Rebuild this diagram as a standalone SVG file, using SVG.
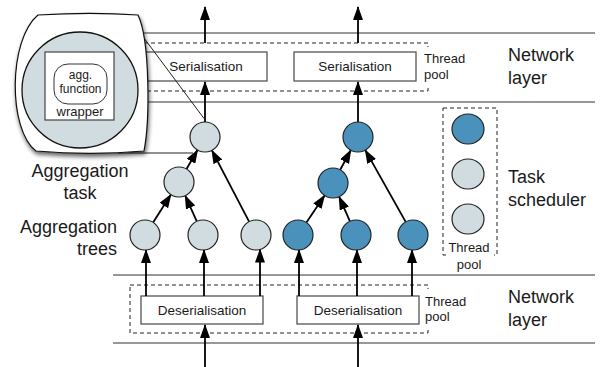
<svg xmlns="http://www.w3.org/2000/svg" width="607" height="367" viewBox="0 0 607 367">
<style>
text{font-family:"Liberation Sans",Arial,sans-serif;fill:#1a1a1a}
.lbl{font-size:18px}
.small{font-size:13px}
.box{fill:#fff;stroke:#555;stroke-width:1.3}
.dash{fill:none;stroke:#222;stroke-width:1;stroke-dasharray:4 3}
.hl{stroke:#333;stroke-width:1.1}
.arr{stroke:#000;stroke-width:1.8;fill:none;marker-end:url(#ah)}
.thin{stroke:#222;stroke-width:1;fill:none}
.g{fill:#d0dcdf;stroke:#222;stroke-width:1.2}
.b{fill:#4a92bc;stroke:#222;stroke-width:1.2}
</style>
<defs>
<marker id="ah" viewBox="0 0 14 10" refX="13" refY="5" markerWidth="14" markerHeight="10" markerUnits="userSpaceOnUse" orient="auto">
<path d="M0,0 L14,5 L0,10 Z" fill="#000"/>
</marker>
<filter id="sh" x="-10%" y="-10%" width="125%" height="125%">
<feDropShadow dx="1" dy="3" stdDeviation="2" flood-color="#000" flood-opacity="0.6"/>
</filter>
</defs>
<rect width="607" height="367" fill="#fff"/>

<g id="layers">
<line class="hl" x1="113" y1="33" x2="595" y2="33"/>
<line class="hl" x1="113" y1="102" x2="595" y2="102"/>
<line class="hl" x1="113" y1="275" x2="595" y2="275"/>
<line class="hl" x1="113" y1="343" x2="595" y2="343"/>
</g>

<g id="top-pool">
<rect class="dash" x="130" y="43" width="298" height="48"/>
<rect x="421" y="47" width="50" height="39" fill="#fff"/>
<text class="small" x="424" y="63">Thread</text>
<text class="small" x="424" y="79">pool</text>
</g>
<g id="bottom-pool">
<rect class="dash" x="130" y="285" width="298" height="48"/>
<rect x="422" y="289" width="50" height="39" fill="#fff"/>
<text class="small" x="425" y="306">Thread</text>
<text class="small" x="425" y="321">pool</text>
</g>

<g id="ser1"><rect class="box" x="145" y="52" width="122" height="29"/><text x="206" y="71" font-size="13.5" text-anchor="middle">Serialisation</text></g>
<g id="ser2"><rect class="box" x="294" y="52" width="122" height="29"/><text x="355" y="71" font-size="13.5" text-anchor="middle">Serialisation</text></g>
<g id="deser1"><rect class="box" x="141" y="296" width="122" height="28"/><text x="202" y="315" font-size="13.5" text-anchor="middle">Deserialisation</text></g>
<g id="deser2"><rect class="box" x="297" y="296" width="122" height="28"/><text x="358" y="315" font-size="13.5" text-anchor="middle">Deserialisation</text></g>

<g id="connectors">
<line class="thin" x1="138" y1="30" x2="204" y2="118.5"/>
<line class="thin" x1="118" y1="153" x2="193" y2="153"/>
<line class="arr" x1="205" y1="43" x2="205" y2="7"/>
<line class="arr" x1="358" y1="43" x2="358" y2="7"/>
<line class="arr" x1="205" y1="122" x2="205" y2="82"/>
<line class="arr" x1="358" y1="122" x2="358" y2="82"/>
<line class="arr" x1="205" y1="367" x2="205" y2="325"/>
<line class="arr" x1="358" y1="367" x2="358" y2="325"/>
<line class="arr" x1="146" y1="296" x2="146" y2="250"/>
<line class="arr" x1="204" y1="296" x2="204" y2="250"/>
<line class="arr" x1="260" y1="296" x2="260" y2="249.5"/>
<line class="arr" x1="299" y1="296" x2="299" y2="250"/>
<line class="arr" x1="357" y1="296" x2="357" y2="250"/>
<line class="arr" x1="412" y1="296" x2="412" y2="250"/>
<line class="arr" x1="153.1" y1="222.4" x2="170.9" y2="194.6"/>
<line class="arr" x1="196.8" y1="221.3" x2="185.2" y2="195.7"/>
<line class="arr" x1="186.5" y1="169" x2="197.5" y2="150"/>
<line class="arr" x1="249.1" y1="221.7" x2="211.9" y2="150.3"/>
<line class="arr" x1="306.4" y1="222.6" x2="324.6" y2="195.4"/>
<line class="arr" x1="349.9" y1="221.3" x2="339.1" y2="196.7"/>
<line class="arr" x1="340.2" y1="169.8" x2="350.8" y2="150.2"/>
<line class="arr" x1="405.7" y1="221.9" x2="365.3" y2="150.1"/>
</g>

<g id="gray-root"><circle class="g" cx="205" cy="137" r="15"/></g>
<g id="gray-mid"><circle class="g" cx="179" cy="182" r="15"/></g>
<g id="gray-leaf1"><circle class="g" cx="145" cy="235" r="15"/></g>
<g id="gray-leaf2"><circle class="g" cx="203" cy="235" r="15"/></g>
<g id="gray-leaf3"><circle class="g" cx="256" cy="235" r="15"/></g>
<g id="blue-root"><circle class="b" cx="358" cy="137" r="15"/></g>
<g id="blue-mid"><circle class="b" cx="333" cy="183" r="15"/></g>
<g id="blue-leaf1"><circle class="b" cx="298" cy="235" r="15"/></g>
<g id="blue-leaf2"><circle class="b" cx="356" cy="235" r="15"/></g>
<g id="blue-leaf3"><circle class="b" cx="413" cy="235" r="15"/></g>

<g id="scheduler-pool">
<rect class="dash" x="443" y="108" width="54" height="147"/>
<ellipse class="b" cx="468" cy="129" rx="16" ry="15"/>
<ellipse class="g" cx="468" cy="174" rx="16" ry="15"/>
<ellipse class="g" cx="468" cy="219" rx="16" ry="15"/>
<rect x="446" y="240" width="48" height="16" fill="#fff"/>
<text class="small" x="469" y="252" text-anchor="middle">Thread</text>
<text class="small" x="469" y="269" text-anchor="middle">pool</text>
</g>

<g id="zoom-lens">
<path d="M38,15 C70,13 110,13 138,15 C150,40 150,120 144,151 C110,154 70,154 36,151 C8,130 8,40 38,15 Z" fill="#fff" stroke="#111" stroke-width="1.2" filter="url(#sh)"/>
<circle cx="80" cy="90" r="58" fill="#d0dcdf" stroke="#111" stroke-width="1.3"/>
<rect x="45" y="52" width="69" height="68" fill="#fff" stroke="#444" stroke-width="1.2"/>
<rect x="54" y="64" width="53" height="40" rx="14" ry="14" fill="#fff" stroke="#333" stroke-width="1"/>
<text x="80.5" y="79" font-size="12" text-anchor="middle">agg.</text>
<text x="80.5" y="93" font-size="12" text-anchor="middle">function</text>
<text x="80" y="115.5" font-size="13" text-anchor="middle">wrapper</text>
</g>

<g id="labels">
<text class="lbl" x="80" y="177" text-anchor="middle">Aggregation</text>
<text class="lbl" x="80" y="199" text-anchor="middle">task</text>
<text class="lbl" x="117" y="233" text-anchor="end">Aggregation</text>
<text class="lbl" x="117" y="255" text-anchor="end">trees</text>
<text class="lbl" x="508" y="61">Network</text>
<text class="lbl" x="508" y="84">layer</text>
<text class="lbl" x="508" y="183">Task</text>
<text class="lbl" x="508" y="206">scheduler</text>
<text class="lbl" x="508" y="303">Network</text>
<text class="lbl" x="508" y="326">layer</text>
</g>
</svg>
